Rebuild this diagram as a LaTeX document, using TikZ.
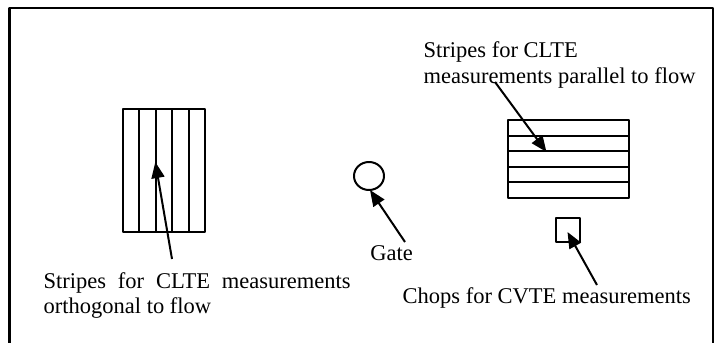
\documentclass[tikz,border=0pt]{standalone}
\usepackage{fontspec}
\setmainfont{Liberation Serif}
\usetikzlibrary{arrows.meta}
\begin{document}
\begin{tikzpicture}[x=0.5pt,y=-0.5pt,line width=1pt,line join=round,
		>={Triangle[length=8pt,width=6.5pt]},
		lbl/.style={inner sep=0pt,anchor=base west,align=left,font=\fontsize{11.25}{12.75}\selectfont}]
			\useasboundingbox (0,0) rectangle (720,343);
			\draw (9.5,343) |- (713,8) -- (713,343);
			% stripes orthogonal to flow
			\draw (123,109) rectangle (205,232);
			\foreach \i in {1,...,4}
			\draw (123+16.4*\i,109)--(123+16.4*\i,232);
			% stripes parallel to flow
			\draw (508,120) rectangle (629,198);
			\foreach \i in {1,...,4}
			\draw (508,120+15.6*\i)--(629,120+15.6*\i);
			% gate and chops
			\draw (369,176) ellipse [x radius=15, y radius=14];
			\draw (556,218) rectangle (580,242);
			\node[lbl] (par) at (422.7,83) {Stripes for CLTE\\measurements parallel to flow};
			\node[lbl,text width=153.5pt,align=justify] (orth) at (42.7,288.3) {Stripes\hfill for\hfill CLTE\hfill measurements\\orthogonal to flow};
			\node[lbl] (gate) at (369.5,260) {Gate};
			\node[lbl] (chops) at (401.7,303.3) {Chops for CVTE measurements};
			\coordinate (orthtail) at (172,259);
			\coordinate (orthtip) at (155.3,162);
			\coordinate (gatetail) at (405,242);
			\coordinate (gatetip) at (370,190);
			\coordinate (partail) at (495,82);
			\coordinate (partip) at (546.5,152);
			\coordinate (chopstail) at (597,285);
			\coordinate (chopstip) at (567.5,232);
			\draw [->] (orthtail)--(orthtip);
			\draw [->] (gatetail)--(gatetip);
			\draw [->] (partail)--(partip);
			\draw [->] (chopstail)--(chopstip);
		\end{tikzpicture}
\end{document}
